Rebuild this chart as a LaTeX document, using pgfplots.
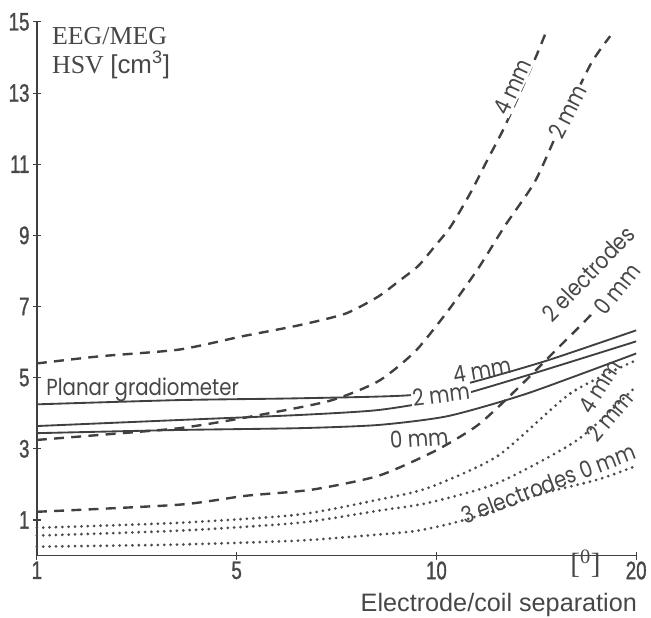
\documentclass[border=0pt]{standalone}
\usepackage{fontspec}
\setmainfont{Liberation Serif}
\newfontfamily\tickfont[FakeStretch=0.74,FakeBold=1.2]{Liberation Sans}
\newfontfamily\arialfont{Liberation Sans}
\newfontfamily\labfont[FakeStretch=0.85]{Poppins}
\usepackage{pgfplots}
\pgfplotsset{compat=1.18}
\definecolor{ink}{gray}{0.25}
\definecolor{txt}{gray}{0.28}

\pgfplotstableread{
x y
0 5.40
0.314 5.60
0.713 5.79
1.026 6.16
1.310 6.47
1.545 6.80
1.709 7.28
1.809 7.70
1.909 8.14
1.993 8.70
2.073 9.26
2.173 10.22
2.257 11.14
2.342 12.06
2.492 13.94
2.557 14.83
}\dashfour
\pgfplotstableread{
x y
0 3.25
0.314 3.39
0.713 3.58
1.026 3.86
1.460 4.34
1.709 4.90
1.894 5.74
2.058 6.88
2.208 8.06
2.342 9.26
2.492 10.50
2.606 11.89
2.771 13.80
2.870 14.60
}\dashtwo
\pgfplotstableread{
x y
0 1.23
0.713 1.43
1.046 1.68
1.375 1.85
1.709 2.24
1.993 2.94
2.208 3.67
2.407 4.70
2.606 5.82
2.771 6.75
2.955 7.92
}\dashzero
\pgfplotstableread{
x y
0 4.25
0.713 4.37
1.310 4.42
1.873 4.51
2.157 4.84
2.542 5.46
3.0 6.33
}\solidfour
\pgfplotstableread{
x y
0 3.64
0.713 3.81
1.310 3.95
1.709 4.09
2.058 4.42
2.457 5.07
3.0 6.02
}\solidtwo
\pgfplotstableread{
x y
0 3.44
0.713 3.53
1.310 3.58
1.709 3.67
2.058 3.92
2.457 4.56
3.0 5.68
}\solidzero
\pgfplotstableread{
x y
0 0.78
0.713 0.92
1.310 1.15
1.709 1.57
1.958 1.90
2.307 2.80
2.671 4.56
3.0 5.49
}\dotfour
\pgfplotstableread{
x y
0 0.56
0.713 0.70
1.310 0.92
1.709 1.26
1.958 1.48
2.307 2.04
2.706 3.25
3.0 4.76
}\dottwo
\pgfplotstableread{
x y
0 0.25
0.713 0.31
1.310 0.42
1.709 0.59
1.908 0.70
2.108 0.95
2.307 1.29
2.506 1.71
2.805 2.13
3.0 2.52
}\dotzero

\begin{document}
\begin{tikzpicture}
\begin{axis}[name=ax,
  width=451.5pt, height=402pt, scale only axis,
  xmin=0, xmax=3, ymin=0, ymax=15,
  axis lines*=left,
  axis line style={ink, line width=1pt, -},
  xtick={0,1,2,3}, xticklabels={1,5,10,20},
  ytick={1,3,5,7,9,11,13,15},
  tick align=center, major tick length=6pt,
  tick style={ink, line width=0.8pt},
  ticklabel style={font=\tickfont\fontsize{19}{21}\selectfont, text=txt},
  yticklabel style={xshift=1pt},
  xticklabel style={yshift=2pt},
  /pgf/number format/assume math mode=true,
  clip=false,
  every axis plot/.append style={ink, smooth, tension=0.4, no marks},
  dashedline/.style={line width=1.8pt, dash pattern=on 7.5pt off 5.5pt},
  solidline/.style={line width=1.4pt},
  dottedline/.style={line width=2.3pt, dash pattern=on 0pt off 4.8pt, line cap=round, black!70},
]
\addplot[dashedline] table {\dashfour};
\addplot[dashedline] table {\dashtwo};
\addplot[dashedline] table {\dashzero};
\addplot[solidline] table {\solidfour};
\addplot[solidline] table {\solidtwo};
\addplot[solidline] table {\solidzero};
\addplot[dottedline] table {\dotfour};
\addplot[dottedline] table {\dottwo};
\addplot[dottedline] table {\dotzero};

\begin{scope}[every node/.style={text=txt, font=\labfont\fontsize{17.5}{19}\selectfont, inner sep=1pt}]
\node[fill=white, rotate=65] at (axis cs:2.382,13.18) {4 mm};
\node[fill=white, rotate=63] at (axis cs:2.656,12.48) {2 mm};
\node[rotate=46] at (axis cs:2.760,7.92) {2 electrodes};
\node[fill=white, rotate=52, inner sep=0.5pt] at (axis cs:2.905,7.50) {0 mm};
\node[rotate=10] at (axis cs:2.228,5.21) {4 mm};
\node[fill=white, rotate=7] at (axis cs:2.023,4.53) {2 mm};
\node[rotate=4] at (axis cs:1.914,3.30) {0 mm};
\node[rotate=58] at (axis cs:2.816,4.76) {4 mm};
\node[rotate=50] at (axis cs:2.866,3.92) {2 mm};
\node[rotate=21] at (axis cs:2.561,2.02) {3 electrodes 0 mm};
\node[anchor=base west] at (axis cs:0.04,4.51) {Planar gradiometer};
\end{scope}

\node[anchor=base west, text=txt, font=\fontsize{19.5}{22}\selectfont, inner sep=0pt] at (axis cs:0.075,14.36) {EEG/MEG};
\node[anchor=base west, text=txt, font=\fontsize{19.5}{22}\selectfont, inner sep=0pt] at (axis cs:0.075,13.55) {HSV {\arialfont [cm\textsuperscript{3}]}};
\node[anchor=base east, text=txt, font=\arialfont\fontsize{19}{22}\selectfont, inner sep=0pt] at (axis cs:3.005,-1.567) {Electrode/coil separation};
\node[text=txt, font=\fontsize{22}{24}\selectfont, inner sep=0pt] at (axis cs:2.746,-0.23) {[\textsuperscript{0}]};
\end{axis}
\path (ax.south west) ++(-27.75pt,-46.5pt);
\path (ax.north east) ++(9pt,16.5pt);
\end{tikzpicture}
\end{document}
